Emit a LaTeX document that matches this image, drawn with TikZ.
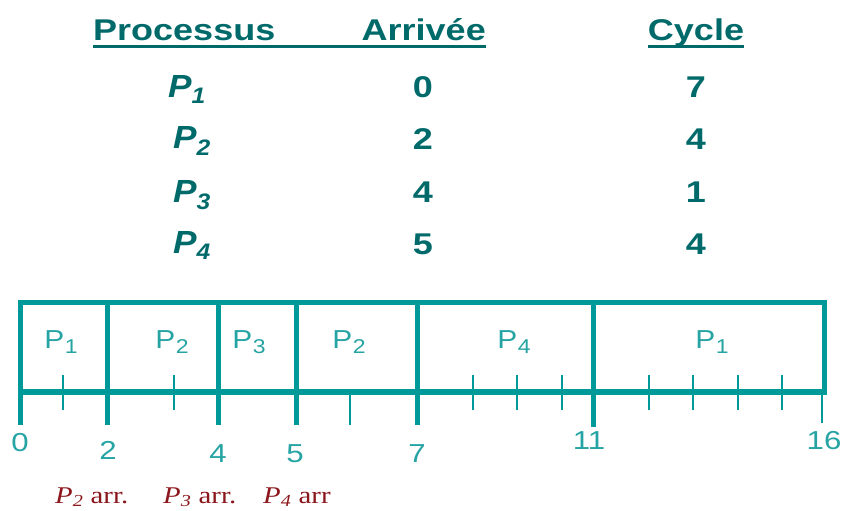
\documentclass[tikz,border=0pt]{standalone}
\usepackage{fontspec}
\setmainfont{Liberation Sans}
\newfontfamily\arrFont{Liberation Serif}
\definecolor{headTeal}{RGB}{0,106,106}
\definecolor{ganttTeal}{RGB}{0,153,153}
\definecolor{labelTeal}{RGB}{38,163,163}
\definecolor{arrRed}{RGB}{139,22,28}
\newcommand{\stretchText}[1]{\scalebox{1.2}[1]{#1}}
\newcommand{\sliceLabel}[1]{\scalebox{1.15}[1]{P\kern0.5pt\raisebox{-5pt}{\fontsize{20}{22}\selectfont #1}}}
\newcommand{\boxTop}{302}
\newcommand{\axisY}{392}
\newcommand{\majorBottom}{425}
\newcommand{\minorTop}{375}
\newcommand{\minorBottom}{410}

\begin{document}
\begin{tikzpicture}[x=1pt,y=-1pt]
\tikzstyle{headText}=[inner sep=0pt,text=headTeal,font=\fontsize{30}{36}\selectfont\bfseries]
\tikzstyle{rowText}=[inner sep=0pt,text=headTeal,font=\fontsize{30}{36}\selectfont\bfseries,anchor=base]
\tikzstyle{procText}=[inner sep=0pt,text=headTeal,font=\fontsize{32}{38}\selectfont\bfseries\itshape,anchor=base west]
\tikzstyle{headRule}=[draw=headTeal,line width=3pt]
\tikzstyle{ganttLine}=[draw=ganttTeal,line width=5pt]
\tikzstyle{tickLine}=[draw=ganttTeal,line width=1.5pt]
\tikzstyle{sliceText}=[inner sep=0pt,text=labelTeal,font=\fontsize{26}{30}\selectfont,anchor=base]
\tikzstyle{timeText}=[inner sep=0pt,text=labelTeal,font=\fontsize{26}{30}\selectfont,anchor=base]
\tikzstyle{arrText}=[inner sep=0pt,text=arrRed,font=\arrFont\fontsize{24}{28}\selectfont,anchor=base west]
\useasboundingbox (0,0) rectangle (843,511);
% table
\node[headText,anchor=base west] (head-proc) at (93,41) {\stretchText{Processus}};
\node[headText,anchor=base east] (head-arr) at (486,41) {\stretchText{Arrivée}};
\node[headText,anchor=base] (head-cyc) at (696,41) {\stretchText{Cycle}};
\draw[headRule] ([yshift=-6pt]head-proc.base west) -- ([yshift=-6pt]head-arr.base east);
\draw[headRule] ([yshift=-6pt]head-cyc.base west) -- ([yshift=-6pt]head-cyc.base east);
\node[procText] (p-1) at (168,97) {\scalebox{1.1}[1]{P\textsubscript{1}}};
\node[procText] (p-2) at (173,148) {\scalebox{1.1}[1]{P\textsubscript{2}}};
\node[procText] (p-3) at (173,202) {\scalebox{1.1}[1]{P\textsubscript{3}}};
\node[procText] (p-4) at (173,253) {\scalebox{1.1}[1]{P\textsubscript{4}}};
\node[rowText] (a-1) at (423,97) {\stretchText{0}};
\node[rowText] (a-2) at (423,149) {\stretchText{2}};
\node[rowText] (a-3) at (423,202) {\stretchText{4}};
\node[rowText] (a-4) at (423,254) {\stretchText{5}};
\node[rowText] (c-1) at (696,97) {\stretchText{7}};
\node[rowText] (c-2) at (696,149) {\stretchText{4}};
\node[rowText] (c-3) at (696,202) {\stretchText{1}};
\node[rowText] (c-4) at (696,254) {\stretchText{4}};
% gantt chart
\draw[ganttLine,line join=miter] (20,\boxTop) rectangle (824,\axisY);
\draw[ganttLine,line width=6pt] (20,\axisY) -- (824,\axisY);
\draw[ganttLine] (20,\boxTop) -- (20,\majorBottom);
\draw[ganttLine] (107,\boxTop) -- (107,\majorBottom);
\draw[ganttLine] (218,\boxTop) -- (218,\majorBottom);
\draw[ganttLine] (296,\boxTop) -- (296,\majorBottom);
\draw[ganttLine] (417,\boxTop) -- (417,\majorBottom);
\draw[ganttLine] (593,\boxTop) -- (593,427);
\draw[tickLine] (63,\minorTop) -- (63,\minorBottom);
\draw[tickLine] (174,\minorTop) -- (174,\minorBottom);
\draw[tickLine] (350,\axisY) -- (350,\majorBottom);
\draw[tickLine] (473,\minorTop) -- (473,\minorBottom);
\draw[tickLine] (517,\minorTop) -- (517,\minorBottom);
\draw[tickLine] (562,\minorTop) -- (562,\minorBottom);
\draw[tickLine] (649,\minorTop) -- (649,\minorBottom);
\draw[tickLine] (693,\minorTop) -- (693,\minorBottom);
\draw[tickLine] (738,\minorTop) -- (738,\minorBottom);
\draw[tickLine] (782,\minorTop) -- (782,\minorBottom);
\draw[tickLine] (822,\axisY) -- (822,423);
\node[sliceText] (s-1) at (61,348) {\sliceLabel{1}};
\node[sliceText] (s-2) at (172,348) {\sliceLabel{2}};
\node[sliceText] (s-3) at (249,348) {\sliceLabel{3}};
\node[sliceText] (s-4) at (349,348) {\sliceLabel{2}};
\node[sliceText] (s-5) at (514,348) {\sliceLabel{4}};
\node[sliceText] (s-6) at (712,348) {\sliceLabel{1}};
\node[timeText] (t-0) at (20,451) {\stretchText{0}};
\node[timeText] (t-2) at (108,459) {\stretchText{2}};
\node[timeText] (t-4) at (218,462) {\stretchText{4}};
\node[timeText] (t-5) at (295,462) {\stretchText{5}};
\node[timeText] (t-7) at (417,462) {\stretchText{7}};
\node[timeText] (t-11) at (589,449) {\stretchText{11}};
\node[timeText] (t-16) at (824,449) {\stretchText{16}};
% arrivals
\node[arrText] (arr-2) at (55,503) {\stretchText{\textit{P\textsubscript{2}} arr.}};
\node[arrText] (arr-3) at (163,503) {\stretchText{\textit{P\textsubscript{3}} arr.}};
\node[arrText] (arr-4) at (263,503) {\stretchText{\textit{P\textsubscript{4}} arr}};
\end{tikzpicture}
\end{document}
